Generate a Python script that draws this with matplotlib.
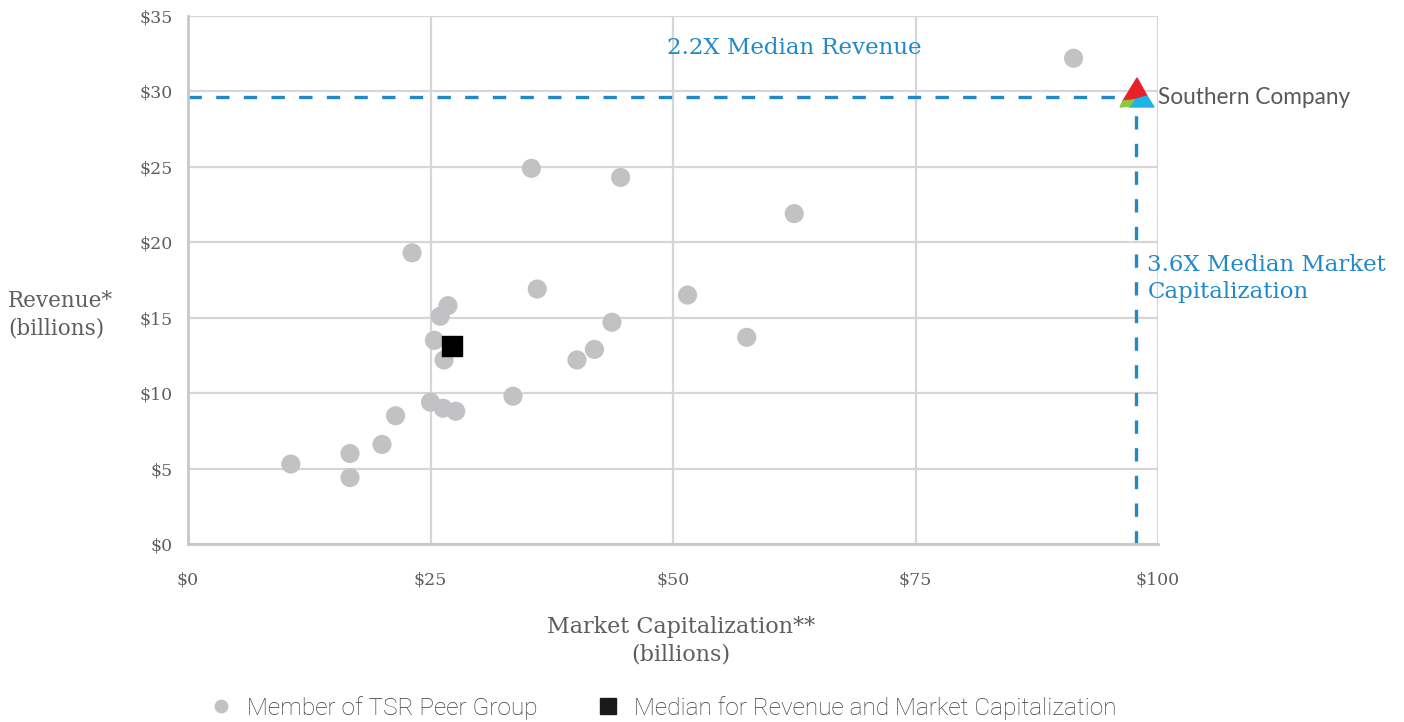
import matplotlib.pyplot as plt
from matplotlib.lines import Line2D
from matplotlib.patches import Polygon

# peer group: market cap ($bn) vs revenue ($bn)
peer_cap = [10.6, 16.7, 16.7, 20.0, 21.4, 23.1, 25.0, 26.3, 27.6, 25.4, 26.0, 26.8, 26.4,
            33.5, 35.4, 36.0, 40.1, 41.9, 43.7, 44.6, 51.5, 57.6, 62.5, 91.3]
peer_rev = [5.3, 6.0, 4.4, 6.6, 8.5, 19.3, 9.4, 9.0, 8.8, 13.5, 15.1, 15.8, 12.2,
            9.8, 24.9, 16.9, 12.2, 12.9, 14.7, 24.3, 16.5, 13.7, 21.9, 32.2]
median_cap = 27.2
median_rev = 13.1
so_cap = 97.7
so_rev = 29.6

xticks = [0, 25, 50, 75, 100]
xlabels = ["$0", "$25", "$50", "$75", "$100"]
yticks = [0, 5, 10, 15, 20, 25, 30, 35]
ylabels = ["$0", "$5", "$10", "$15", "$20", "$25", "$30", "$35"]

BLUE = "#2289c8"
GREY_TXT = "#5e5e5e"
SERIF = "DejaVu Serif"

fig = plt.figure(figsize=(14.04, 7.22), dpi=100)
ax = fig.add_axes([188 / 1404, 1 - 544 / 722, 970 / 1404, 528 / 722])
ax.set_xlim(0, 100)
ax.set_ylim(0, 35)

ax.set_xticks(xticks)
ax.set_xticklabels(xlabels)
ax.set_yticks(yticks)
ax.set_yticklabels(ylabels)
ax.tick_params(length=0, colors=GREY_TXT, labelsize=12.5)
ax.tick_params(axis="x", pad=20)
ax.tick_params(axis="y", pad=11)
for lab in ax.get_xticklabels() + ax.get_yticklabels():
    lab.set_family(SERIF)
ax.grid(True, color="#d6d6d6", lw=1.6)
ax.set_axisbelow(True)
for s in ["top", "right"]:
    ax.spines[s].set_visible(False)
for s in ["left", "bottom"]:
    ax.spines[s].set_color("#c8c8c8")
    ax.spines[s].set_linewidth(2)

# dashed reference lines for Southern Company
ax.plot([0, so_cap - 1.8], [so_rev, so_rev], color=BLUE, lw=2.4, dashes=(4, 4.3), clip_on=False)
ax.plot([so_cap, so_cap], [0, so_rev - 0.6], color=BLUE, lw=2.4, dashes=(4, 4.3), clip_on=False)

peers = ax.scatter(peer_cap, peer_rev, s=190, color="#c2c2c4", edgecolors="none", zorder=3)
med = ax.scatter([median_cap], [median_rev], s=210, marker="s", color="black", zorder=4)

ax.text(49.4, 32.9, "2.2X Median Revenue", color=BLUE, fontsize=16.5, family=SERIF,
        va="center", ha="left")
ax.text(98.9, 17.6, "3.6X Median Market\nCapitalization", color=BLUE, fontsize=16.5,
        family=SERIF, va="center", ha="left", linespacing=1.3, clip_on=False)

# logo mark + name
def px(x, y):
    return (x / 1404, 1 - y / 722)

fig.patches.append(Polygon([px(1137, 78), px(1123, 101), px(1147, 96)], closed=True,
                           color="#e8202a", transform=fig.transFigure))
fig.patches.append(Polygon([px(1147, 96), px(1154, 107), px(1129, 107), px(1133, 100)],
                           closed=True, color="#1eb3e6", transform=fig.transFigure))
fig.patches.append(Polygon([px(1123, 101), px(1134, 100), px(1130, 106), px(1120, 107)],
                           closed=True, color="#8dc63f", transform=fig.transFigure))
fig.text(1158 / 1404, 1 - 98 / 722, "Southern Company", family="Lato", fontsize=16.3,
         color="#58595b", va="center", ha="left")

# axis titles
fig.text(8 / 1404, 1 - 315 / 722, "Revenue*\n(billions)", family=SERIF, fontsize=15.5,
         color=GREY_TXT, ha="left", va="center", linespacing=1.3)
fig.text(681 / 1404, 1 - 641 / 722, "Market Capitalization**\n(billions)", family=SERIF,
         fontsize=16, color=GREY_TXT, ha="center", va="center", linespacing=1.3)

handles = [
    Line2D([], [], ls="none", marker="o", markersize=9, color="#c2c2c4"),
    Line2D([], [], ls="none", marker="s", markersize=11, color="#1a1a1a"),
]
fig.legend(handles, ["Member of TSR Peer Group", "Median for Revenue and Market Capitalization"],
           loc="center left", bbox_to_anchor=(187 / 1404, 1 - 708 / 722), ncol=2,
           frameon=False, handlelength=1.0, handletextpad=0.55, columnspacing=2.4,
           prop={"family": "Roboto", "weight": "light", "size": 17.6}, labelcolor="#3a3a3a")

fig.savefig("out.png", dpi=100)
